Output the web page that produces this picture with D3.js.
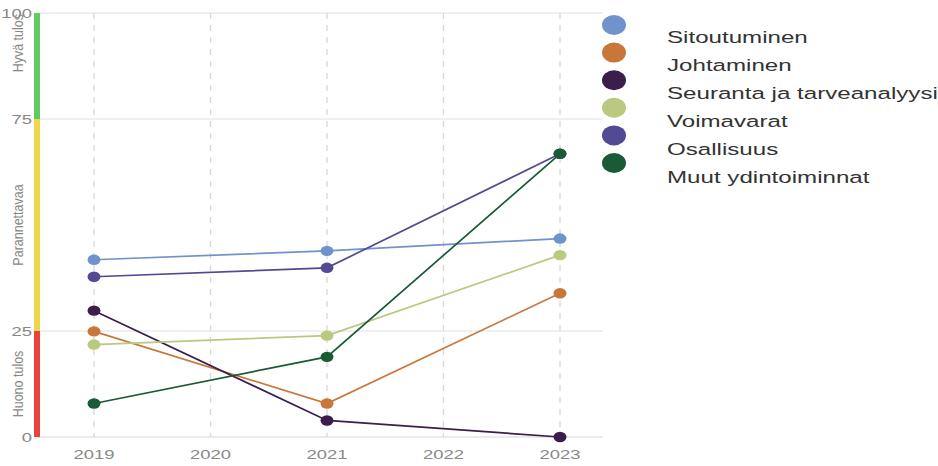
<!DOCTYPE html>
<html><head><meta charset="utf-8">
<script src="https://cdn.jsdelivr.net/npm/d3@7"></script>
<style>body{margin:0;background:#fff}svg{display:block}</style>
</head><body>
<svg id="c" width="938" height="466"></svg>
<script>
const years = [2019, 2021, 2023];
const xTicks = [2019, 2020, 2021, 2022, 2023];
const yTicks = [0, 25, 75, 100];
const seriesNames = ["Sitoutuminen", "Johtaminen", "Seuranta ja tarveanalyysi", "Voimavarat", "Osallisuus", "Muut ydintoiminnat"];
const sitoutuminen = [41.8, 43.9, 46.8];
const johtaminen = [24.9, 7.9, 33.9];
const seuranta = [29.8, 3.9, 0];
const voimavarat = [21.8, 23.9, 42.9];
const osallisuus = [37.8, 39.9, 66.8];
const muut = [7.9, 18.9, 66.8];
const seriesColors = ["#7193cc", "#c8773a", "#3b1e4a", "#b9c97f", "#524a93", "#1a5a36"];
const bandFrom = [75, 25, 0];
const bandTo = [100, 75, 25];
const bandLabels = ["Hyvä tulos", "Parannettavaa", "Huono tulos"];
const bandColors = ["#63c963", "#f0d64a", "#e8433f"];

const allSeries = [sitoutuminen, johtaminen, seuranta, voimavarat, osallisuus, muut];
const bands = bandLabels.map((l, i) => ({label: l, from: bandFrom[i], to: bandTo[i], color: bandColors[i]}));
const SX = 1.42;
const FONT = "Liberation Sans, Arial, sans-serif";
const svg = d3.select("#c");
const x = d3.scaleLinear().domain([2019, 2023]).range([94, 560]);
const y = d3.scaleLinear().domain([0, 100]).range([437, 13]);
const left = 38, right = 603;

// horizontal grid
svg.append("g").selectAll("line").data(yTicks).join("line")
  .attr("x1", left).attr("x2", right)
  .attr("y1", d => y(d)).attr("y2", d => y(d))
  .attr("stroke", d => d === 0 ? "#d6d6d6" : "#e0e0e0").attr("stroke-width", 1);
// vertical dashed grid
svg.append("g").selectAll("line").data(xTicks).join("line")
  .attr("x1", d => x(d)).attr("x2", d => x(d))
  .attr("y1", y(100)).attr("y2", y(0))
  .attr("stroke", "#d8d8d8").attr("stroke-width", 1.3).attr("stroke-dasharray", "6,6");

// colored bands
svg.append("g").selectAll("rect").data(bands).join("rect")
  .attr("x", 34).attr("width", 6)
  .attr("y", d => y(d.to)).attr("height", d => y(d.from) - y(d.to))
  .attr("fill", d => d.color);
svg.append("g").selectAll("text").data(bands).join("text")
  .attr("transform", d => {
    const cy = d.to === 100 ? y(d.to) + 1 : (y(d.from) + y(d.to)) / 2;
    return `translate(23,${cy}) rotate(-90) scale(1,1.15)`;
  })
  .attr("text-anchor", d => d.to === 100 ? "end" : "middle")
  .attr("font-family", FONT).attr("font-size", 12.5)
  .attr("fill", "#888").text(d => d.label);

// y tick labels
svg.append("g").selectAll("text").data(yTicks).join("text")
  .attr("transform", d => `translate(32,${y(d) + 5}) scale(${SX},1)`)
  .attr("text-anchor", "end")
  .attr("font-family", FONT).attr("font-size", 13)
  .attr("fill", "#888").text(d => d);
// x tick labels
svg.append("g").selectAll("text").data(xTicks).join("text")
  .attr("transform", d => `translate(${x(d)},459) scale(${SX},1)`)
  .attr("text-anchor", "middle")
  .attr("font-family", FONT).attr("font-size", 13)
  .attr("fill", "#888").text(d => d);

// lines
const line = d3.line().x((d, i) => x(years[i])).y(d => y(d));
const g = svg.append("g");
allSeries.forEach((s, k) => {
  g.append("path").datum(s).attr("d", line).attr("fill", "none")
    .attr("stroke", seriesColors[k]).attr("stroke-width", 1.7);
});
allSeries.forEach((s, k) => {
  g.selectAll(null).data(s).join("ellipse")
    .attr("cx", (d, i) => x(years[i])).attr("cy", d => y(d))
    .attr("rx", 6.5).attr("ry", 5.2).attr("fill", seriesColors[k]);
});

// legend
const lg = svg.append("g");
lg.selectAll("ellipse").data(seriesNames).join("ellipse")
  .attr("cx", 614).attr("cy", (d, i) => 25 + i * 27.6)
  .attr("rx", 12).attr("ry", 10).attr("fill", (d, i) => seriesColors[i]);
lg.selectAll("text").data(seriesNames).join("text")
  .attr("transform", (d, i) => `translate(667,${43 + i * 28}) scale(${SX},1)`)
  .attr("font-family", FONT).attr("font-size", 17)
  .attr("fill", "#333").text(d => d);
</script>
</body></html>
